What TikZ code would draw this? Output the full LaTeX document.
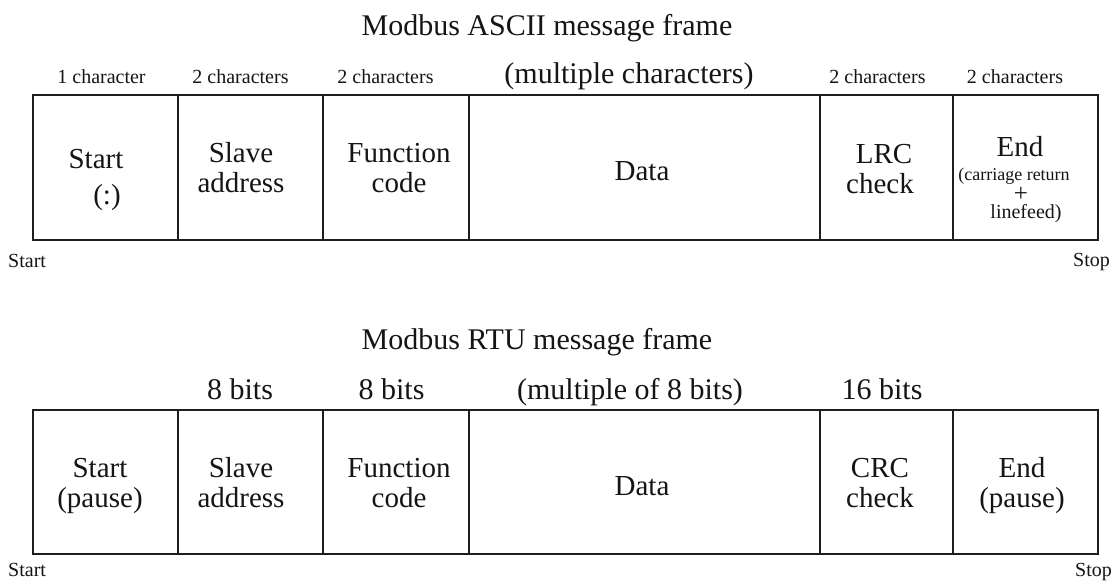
\documentclass[tikz,border=0pt]{standalone}
\usepackage{fontspec}
\setmainfont{Liberation Serif}
\definecolor{linec}{HTML}{1E1E1E}
\definecolor{txt}{HTML}{151515}
\begin{document}
\begin{tikzpicture}[x=1pt,y=-1pt,
  cell/.style={draw=linec, line width=1.8pt, inner sep=0pt, outer sep=0pt},
  topcell/.style={cell, minimum height=145pt},
  botcell/.style={cell, minimum height=144pt},
  big/.style={font=\fontsize{30}{30}\selectfont, anchor=base, inner sep=0pt, text=txt},
  lbl/.style={font=\fontsize{29}{30}\selectfont, anchor=base, inner sep=0pt, text=txt},
  small/.style={font=\fontsize{20}{20}\selectfont, anchor=base, inner sep=0pt, text=txt},
  tiny/.style={font=\fontsize{18}{18}\selectfont, anchor=base, inner sep=0pt, text=txt}]
\newcommand{\twoline}[2]{\begin{tabular}[t]{@{}c@{}}#1\\#2\end{tabular}}
\fill[white] (0,0) rectangle (1113,581);
\useasboundingbox (0,0) rectangle (1113,581);

% ---------- ASCII frame ----------
\node[big] (titleA) at (547,35) {Modbus ASCII message frame};

\node[small] (hA1) at (101.5,83) {1 character};
\node[small] (hA2) at (240.5,83) {2 characters};
\node[small] (hA3) at (385.5,83) {2 characters};
\node[big]   (hA4) at (629,83) {(multiple characters)};
\node[small] (hA5) at (877.5,83) {2 characters};
\node[small] (hA6) at (1015,83) {2 characters};

\node[topcell, minimum width=145pt] (t1) at (105.5,167.5) {};
\node[topcell, minimum width=145pt] (t2) at (250.5,167.5) {};
\node[topcell, minimum width=146pt] (t3) at (396,167.5) {};
\node[topcell, minimum width=351pt] (t4) at (644.5,167.5) {};
\node[topcell, minimum width=133pt] (t5) at (886.5,167.5) {};
\node[topcell, minimum width=145pt] (t6) at (1025.5,167.5) {};

\node[lbl] (t1a) at (96,168) {Start};
\node[lbl] (t1b) at (107,204) {(:)};
\node[lbl] (t2a) at (241,162) {\twoline{Slave}{address}};
\node[lbl] (t3a) at (399,162) {\twoline{Function}{code}};
\node[lbl] (t4a) at (642,180) {Data};
\node[lbl] (t5a) at (880,163) {\twoline{\hspace*{8pt}LRC}{check}};
\node[lbl] (t6a) at (1020,156) {End};
\node[tiny] (t6b) at (1014,180) {(carriage return};
\node[font=\fontsize{25}{25}\selectfont, inner sep=0pt, text=txt] (t6c) at (1021,194) {+};
\node[small] (t6d) at (1026,218) {linefeed)};

\node[small, anchor=base west] (sA) at (8,267) {Start};
\node[small, anchor=base east] (eA) at (1110,266) {Stop};

% ---------- RTU frame ----------
\node[big] (titleB) at (537,349) {Modbus RTU message frame};

\node[big] (hB2) at (240,399) {8 bits};
\node[big] (hB3) at (391.5,399) {8 bits};
\node[big] (hB4) at (630,399) {(multiple of 8 bits)};
\node[big] (hB5) at (882,399) {16 bits};

\node[botcell, minimum width=145pt] (b1) at (105.5,482) {};
\node[botcell, minimum width=145pt] (b2) at (250.5,482) {};
\node[botcell, minimum width=146pt] (b3) at (396,482) {};
\node[botcell, minimum width=351pt] (b4) at (644.5,482) {};
\node[botcell, minimum width=133pt] (b5) at (886.5,482) {};
\node[botcell, minimum width=145pt] (b6) at (1025.5,482) {};

\node[lbl] (b1a) at (100,477) {\twoline{Start}{(pause)}};
\node[lbl] (b2a) at (241,477) {\twoline{Slave}{address}};
\node[lbl] (b3a) at (399,477) {\twoline{Function}{code}};
\node[lbl] (b4a) at (642,495) {Data};
\node[lbl] (b5a) at (880,477) {\twoline{CRC}{check}};
\node[lbl] (b6a) at (1022,477) {\twoline{End}{(pause)}};

\node[small, anchor=base west] (sB) at (8,576) {Start};
\node[small, anchor=base east] (eB) at (1112,576) {Stop};
\end{tikzpicture}
\end{document}
